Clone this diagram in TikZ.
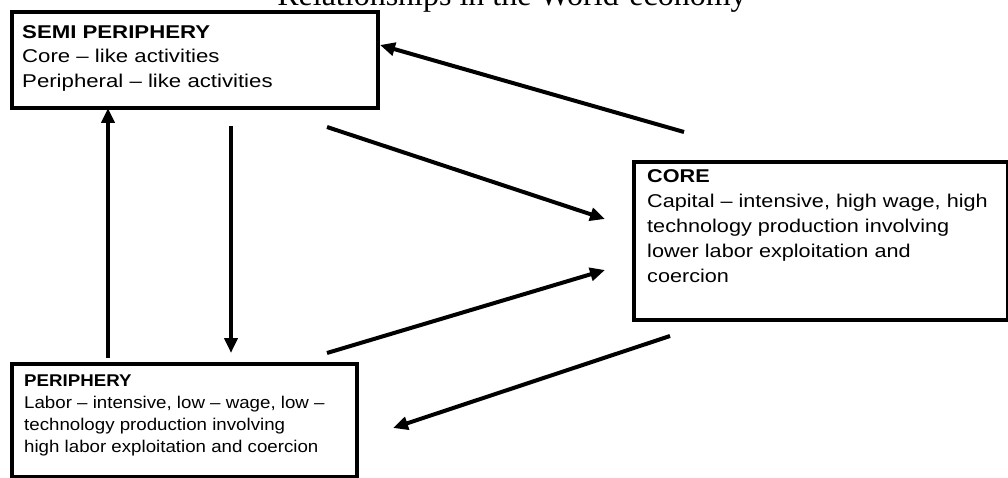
\documentclass[tikz,border=0pt]{standalone}
\usepackage{fontspec}
\setmainfont{Liberation Sans}
\newfontfamily\titlefont{Liberation Serif}
\newfontfamily\semifont[FakeStretch=1.2]{Liberation Sans}
\newfontfamily\corefont[FakeStretch=1.17]{Liberation Sans}
\newfontfamily\perifont[FakeStretch=1.1]{Liberation Sans}
\usetikzlibrary{arrows.meta}
\tikzset{
  box/.style={draw=black, line width=4pt, anchor=north west, inner sep=0pt, minimum width=0pt, minimum height=0pt},
  boxtext/.style={anchor=north west, inner sep=0pt, align=left},
  arr/.style={line width=4pt, -{Triangle[length=15pt,width=13pt]}},
}
\begin{document}
\begin{tikzpicture}[x=1pt,y=-1pt]
\useasboundingbox (0,0) rectangle (1008,478);
\clip (0,0) rectangle (1008,478);
\fill[white] (0,0) rectangle (1008,478);
% title (cut off at top)
\node[anchor=base, inner sep=0pt, font=\titlefont\fontsize{32}{32}\selectfont] (title) at (512,5.5) {Relationships in the World-economy};
% boxes
\node[box, minimum width=366pt, minimum height=96pt] (semi) at (10,10) {};
\node[box, minimum width=374pt, minimum height=158pt] (core) at (632,160) {};
\node[box, minimum width=345pt, minimum height=113pt] (peri) at (10,362) {};
% texts
\node[boxtext, font=\semifont\fontsize{18.5}{24.5}\selectfont] (semitext) at (22,25) {\textbf{SEMI PERIPHERY}\\Core – like activities\\Peripheral – like activities};
\node[boxtext, font=\corefont\fontsize{18.5}{25}\selectfont] (coretext) at (647,169) {\textbf{CORE}\\Capital – intensive, high wage, high\\technology production involving\\lower labor exploitation and\\coercion};
\node[boxtext, font=\perifont\fontsize{17}{22}\selectfont] (peritext) at (24,375) {\textbf{PERIPHERY}\\Labor – intensive, low – wage, low –\\technology production involving\\high labor exploitation and coercion};
% arrow end points
\coordinate (a1s) at (684,132); \coordinate (a1e) at (380,45);
\coordinate (a2s) at (327,127); \coordinate (a2e) at (605,219);
\coordinate (a3s) at (327,353); \coordinate (a3e) at (605,270);
\coordinate (a4s) at (670,336); \coordinate (a4e) at (393,428);
\coordinate (a5s) at (231,126); \coordinate (a5e) at (231,353);
\coordinate (a6s) at (108,358); \coordinate (a6e) at (108,108);
\draw[arr] (a1s) -- (a1e);
\draw[arr] (a2s) -- (a2e);
\draw[arr] (a3s) -- (a3e);
\draw[arr] (a4s) -- (a4e);
\draw[arr] (a5s) -- (a5e);
\draw[arr] (a6s) -- (a6e);
\end{tikzpicture}
\end{document}
